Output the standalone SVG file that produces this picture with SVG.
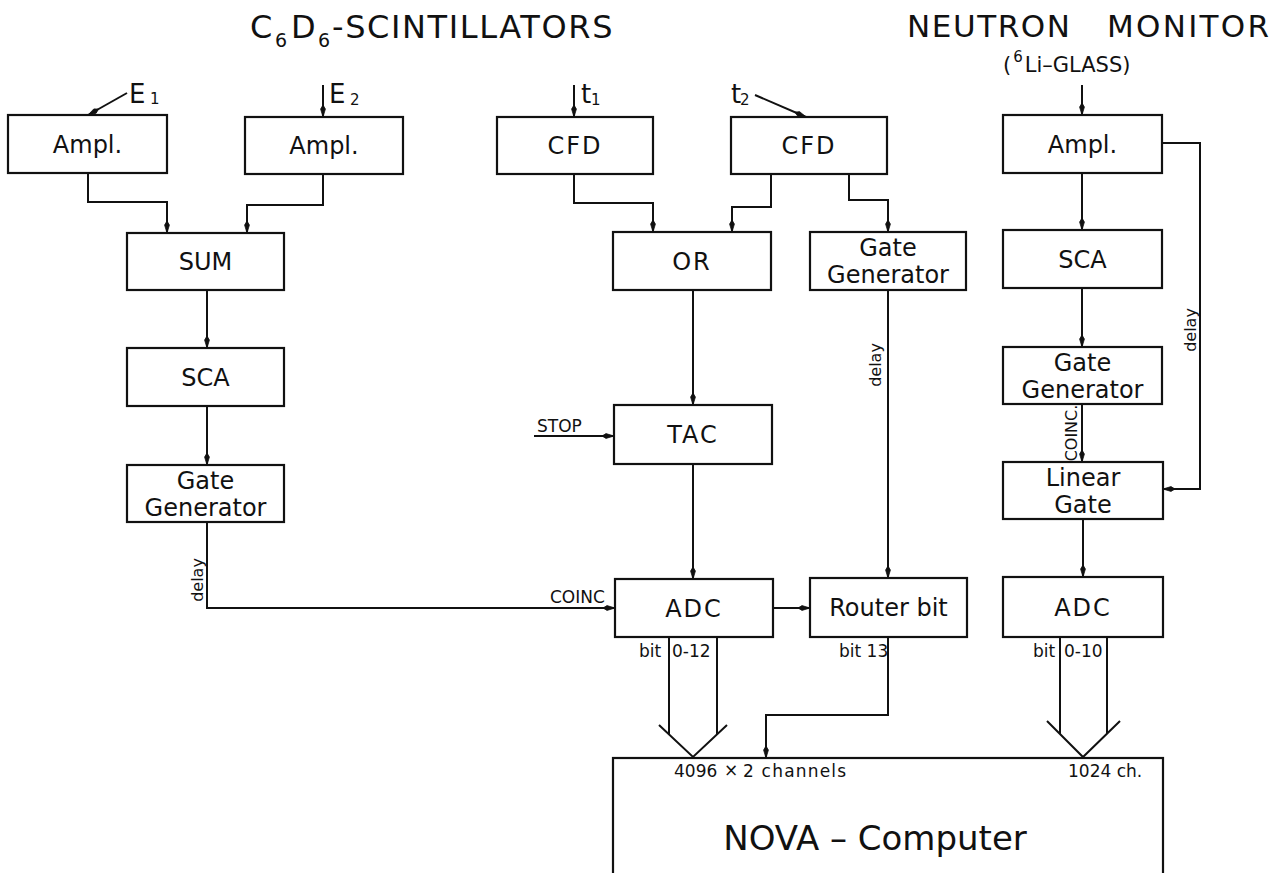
<svg xmlns="http://www.w3.org/2000/svg" width="1284" height="873" viewBox="0 0 1284 873">
<defs>
<marker id="ah" markerUnits="userSpaceOnUse" markerWidth="13" markerHeight="8" refX="12" refY="4" orient="auto">
<path d="M0,4 L4,1.6 L12,4 L4,6.4 Z" fill="#111" stroke="#111" stroke-width="0.8"/>
</marker>
<style>
.box{fill:#fff;stroke:#111;stroke-width:2.2}
.ln{fill:none;stroke:#111;stroke-width:2}
.lbl{font-family:"DejaVu Sans",sans-serif;font-size:24px;fill:#111;text-anchor:middle}
.sm{font-family:"DejaVu Sans",sans-serif;font-size:17px;fill:#111}
.dl{font-family:"DejaVu Sans",sans-serif;font-size:16px;fill:#111;text-anchor:middle}
.ttl{font-family:"DejaVu Sans",sans-serif;fill:#111}
</style>
</defs>
<rect width="1284" height="873" fill="#fff"/>

<g id="titles">
<text class="ttl" x="250" y="38" font-size="32">C<tspan x="275" y="47" font-size="19">6</tspan><tspan x="291" y="38">D</tspan><tspan x="318" y="47" font-size="19">6</tspan><tspan x="332" y="38" letter-spacing="1.6">-SCINTILLATORS</tspan></text>
<text class="ttl" x="907" y="37" font-size="31" textLength="163" lengthAdjust="spacing">NEUTRON</text>
<text class="ttl" x="1107" y="37" font-size="31" textLength="162" lengthAdjust="spacing">MONITOR</text>
<text class="ttl" x="1003" y="72" font-size="21">(<tspan dx="2" dy="-10" font-size="15">6</tspan><tspan dx="2" dy="10">Li–GLASS)</tspan></text>
</g>

<g id="inputs">
<text class="ttl" x="129" y="103" font-size="26">E</text>
<text class="ttl" x="150" y="104" font-size="15">1</text>
<text class="ttl" x="329" y="103" font-size="26">E</text>
<text class="ttl" x="350" y="105" font-size="15">2</text>
<text class="ttl" x="581" y="103" font-size="26">t</text>
<text class="ttl" x="591" y="105" font-size="15">1</text>
<text class="ttl" x="731" y="103" font-size="26">t</text>
<text class="ttl" x="740" y="105" font-size="15">2</text>
</g>

<g id="node-ampl1"><rect class="box" x="8" y="115" width="159" height="58"/><text class="lbl" x="87.5" y="153">Ampl.</text></g>
<g id="node-ampl2"><rect class="box" x="245" y="117" width="158" height="57"/><text class="lbl" x="324" y="154">Ampl.</text></g>
<g id="node-cfd1"><rect class="box" x="497" y="117" width="156" height="57"/><text class="lbl" x="575" y="154" letter-spacing="2">CFD</text></g>
<g id="node-cfd2"><rect class="box" x="731" y="117" width="156" height="57"/><text class="lbl" x="809" y="154" letter-spacing="2">CFD</text></g>
<g id="node-ampl3"><rect class="box" x="1003" y="115" width="159" height="58"/><text class="lbl" x="1082.5" y="153">Ampl.</text></g>
<g id="node-sum"><rect class="box" x="127" y="233" width="157" height="57"/><text class="lbl" x="205.5" y="270">SUM</text></g>
<g id="node-or"><rect class="box" x="613" y="232" width="158" height="58"/><text class="lbl" x="692" y="270" letter-spacing="2">OR</text></g>
<g id="node-gg-mid"><rect class="box" x="810" y="232" width="156" height="58"/><text class="lbl" x="888" y="256">Gate</text><text class="lbl" x="888" y="283">Generator</text></g>
<g id="node-sca-r"><rect class="box" x="1003" y="230" width="159" height="58"/><text class="lbl" x="1082.5" y="268">SCA</text></g>
<g id="node-sca-l"><rect class="box" x="127" y="348" width="157" height="58"/><text class="lbl" x="205.5" y="386">SCA</text></g>
<g id="node-tac"><rect class="box" x="614" y="405" width="158" height="59"/><text class="lbl" x="693" y="443" letter-spacing="2">TAC</text></g>
<g id="node-gg-r"><rect class="box" x="1003" y="347" width="159" height="57"/><text class="lbl" x="1082.5" y="371">Gate</text><text class="lbl" x="1082.5" y="398">Generator</text></g>
<g id="node-gg-l"><rect class="box" x="127" y="465" width="157" height="57"/><text class="lbl" x="205.5" y="489">Gate</text><text class="lbl" x="205.5" y="516">Generator</text></g>
<g id="node-lg"><rect class="box" x="1003" y="462" width="160" height="57"/><text class="lbl" x="1083" y="486">Linear</text><text class="lbl" x="1083" y="513">Gate</text></g>
<g id="node-adc1"><rect class="box" x="615" y="579" width="158" height="58"/><text class="lbl" x="694" y="617" letter-spacing="2">ADC</text></g>
<g id="node-router"><rect class="box" x="810" y="578" width="157" height="59"/><text class="lbl" x="888.5" y="616">Router bit</text></g>
<g id="node-adc3"><rect class="box" x="1003" y="577" width="160" height="60"/><text class="lbl" x="1083" y="616" letter-spacing="2">ADC</text></g>
<g id="node-nova"><rect class="box" x="613" y="758" width="550" height="130"/>
<text class="sm" x="674" y="777" font-size="18">4096</text><text class="sm" x="724" y="776" font-size="14">×</text><text class="sm" x="743" y="777" font-size="19" letter-spacing="1.2">2 channels</text>
<text class="sm" x="1068" y="777">1024 ch.</text>
<text class="ttl" x="875" y="850" font-size="34" text-anchor="middle">NOVA – Computer</text>
</g>

<g id="connectors">
<line class="ln" x1="127" y1="93" x2="88" y2="115" marker-end="url(#ah)"/>
<line class="ln" x1="323" y1="85" x2="323" y2="117" marker-end="url(#ah)"/>
<line class="ln" x1="574" y1="85" x2="574" y2="117" marker-end="url(#ah)"/>
<line class="ln" x1="755" y1="95" x2="806" y2="117" marker-end="url(#ah)"/>
<line class="ln" x1="1082" y1="85" x2="1082" y2="115" marker-end="url(#ah)"/>
<polyline class="ln" points="88,173 88,202 167,202 167,233" marker-end="url(#ah)"/>
<polyline class="ln" points="323,174 323,205 247,205 247,233" marker-end="url(#ah)"/>
<polyline class="ln" points="574,174 574,203 653,203 653,232" marker-end="url(#ah)"/>
<polyline class="ln" points="771,174 771,207 732,207 732,232" marker-end="url(#ah)"/>
<polyline class="ln" points="849,174 849,200 888,200 888,232" marker-end="url(#ah)"/>
<line class="ln" x1="207" y1="290" x2="207" y2="348" marker-end="url(#ah)"/>
<line class="ln" x1="207" y1="406" x2="207" y2="465" marker-end="url(#ah)"/>
<polyline class="ln" points="207,522 207,608 615,608" marker-end="url(#ah)"/>
<line class="ln" x1="693" y1="290" x2="693" y2="405" marker-end="url(#ah)"/>
<line class="ln" x1="534" y1="436" x2="614" y2="436" marker-end="url(#ah)"/>
<line class="ln" x1="693" y1="464" x2="693" y2="579" marker-end="url(#ah)"/>
<line class="ln" x1="773" y1="608" x2="810" y2="608" marker-end="url(#ah)"/>
<line class="ln" x1="888" y1="290" x2="888" y2="578" marker-end="url(#ah)"/>
<line class="ln" x1="1082" y1="173" x2="1082" y2="230" marker-end="url(#ah)"/>
<line class="ln" x1="1082" y1="288" x2="1082" y2="347" marker-end="url(#ah)"/>
<line class="ln" x1="1082" y1="404" x2="1082" y2="462" marker-end="url(#ah)"/>
<line class="ln" x1="1083" y1="519" x2="1083" y2="577" marker-end="url(#ah)"/>
<polyline class="ln" points="1162,143 1200,143 1200,489 1163,489" marker-end="url(#ah)"/>
<polyline class="ln" points="888,637 888,715 766,715 766,758" marker-end="url(#ah)"/>
<line class="ln" x1="669" y1="637" x2="669" y2="734"/>
<line class="ln" x1="717" y1="637" x2="717" y2="734"/>
<polyline class="ln" points="659,725 693,757 727,725"/>
<line class="ln" x1="1060" y1="637" x2="1060" y2="734"/>
<line class="ln" x1="1107" y1="637" x2="1107" y2="734"/>
<polyline class="ln" points="1047,721 1083,757 1120,721"/>
<text class="sm" x="550" y="603" font-size="16">COINC</text>
<text class="sm" x="537" y="432">STOP</text>
<text class="dl" transform="translate(203,580) rotate(-90)">delay</text>
<text class="dl" transform="translate(881,365) rotate(-90)">delay</text>
<text class="dl" transform="translate(1196,330) rotate(-90)">delay</text>
<text class="dl" transform="translate(1077,433) rotate(-90)" font-size="15">COINC.</text>
<text class="sm" x="639" y="657">bit</text>
<text class="sm" x="672" y="657">0-12</text>
<text class="sm" x="839" y="657">bit 13</text>
<text class="sm" x="1033" y="657">bit</text>
<text class="sm" x="1064" y="657">0-10</text>
</g>
</svg>
